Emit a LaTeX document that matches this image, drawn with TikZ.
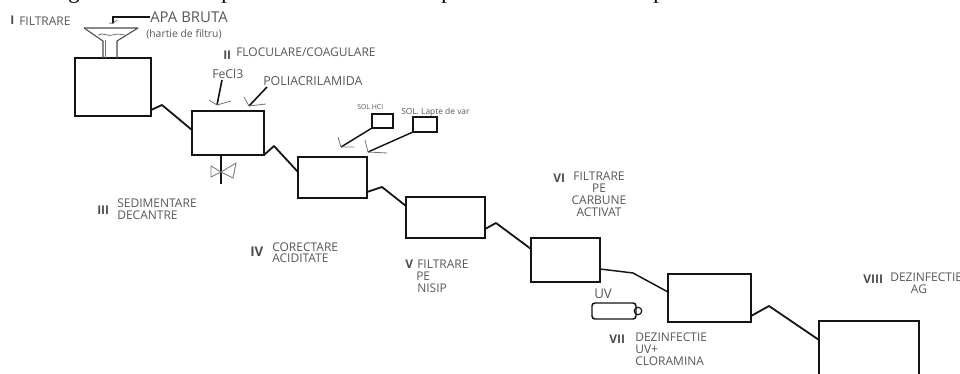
\documentclass[tikz,border=0pt]{standalone}
\usepackage{fontspec}
\setmainfont{Open Sans}
\newfontfamily\serifcut{Liberation Serif}
\definecolor{lab}{gray}{0.34}
\definecolor{ink}{gray}{0.08}
\tikzset{
 tank/.style={draw=ink,line width=1.35pt,anchor=north west,inner sep=0pt,outer sep=0pt},
 pipe/.style={draw=ink,line width=1.35pt,line join=round},
 sketch/.style={draw=black!55,line width=.6pt,line join=round},
 lbl/.style={text=lab,inner sep=0pt,anchor=west,font=\fontsize{9}{10}\selectfont},
 lblc/.style={text=lab,inner sep=0pt,font=\fontsize{9}{10}\selectfont},
 tiny/.style={text=lab,inner sep=0pt,anchor=west,font=\fontsize{5.2}{6}\selectfont},
 small/.style={text=lab,inner sep=0pt,anchor=west,font=\fontsize{7.8}{9}\selectfont},
 big/.style={text=lab,inner sep=0pt,anchor=west,font=\fontsize{11.2}{13}\selectfont},
 roman/.style={text=black!70,inner sep=0pt,anchor=west,font=\bfseries\fontsize{9}{10}\selectfont},
 cut/.style={text=black,inner sep=0pt,anchor=base,font=\serifcut\fontsize{17}{18}\selectfont}
}
\begin{document}
\begin{tikzpicture}[x=0.75pt,y=-0.75pt]
\useasboundingbox (0,0) rectangle (960,374);
\clip (0,0) rectangle (960,374);
% descenders of the line cut off above the picture
\node[cut] (c1) at (74,-1) {g};
\node[cut] (c2) at (227,-1) {p};
\node[cut] (c3) at (447,-1) {p};
\node[cut] (c4) at (659,-1) {p};
% tanks
\node[tank,minimum width=57pt,minimum height=43.5pt] (b1) at (75,58) {};
\node[tank,minimum width=54pt,minimum height=33pt] (b2) at (192,111) {};
\node[tank,minimum width=51.75pt,minimum height=30.75pt] (b3) at (298,157) {};
\node[tank,minimum width=59.25pt,minimum height=30.75pt] (b4) at (406,197) {};
\node[tank,minimum width=51.75pt,minimum height=33pt] (b5) at (531,238) {};
\node[tank,minimum width=62.25pt,minimum height=36pt] (b6) at (668,274) {};
\node[tank,minimum width=75pt,minimum height=48pt] (b7) at (819,321) {};
\node[tank,line width=1.1pt,minimum width=15.75pt,minimum height=10.5pt] (h) at (372,114) {};
\node[tank,line width=1.1pt,minimum width=18pt,minimum height=11.25pt] (l) at (413,117) {};
% connectors between tanks
\draw[pipe] ([shift={(0,-6)}]b1.south east) -- ++(11,-5) -- ([shift={(0,19)}]b2.north west);
\draw[pipe] (b2.south east) -- ++(10,-9) -- ([shift={(0,15)}]b3.north west);
\draw[pipe] ([shift={(0,-6)}]b3.south east) -- ++(15,-5) -- ([shift={(0,9)}]b4.north west);
\draw[pipe] ([shift={(0,-9)}]b4.south east) -- ++(11,-6) -- ([shift={(0,11)}]b5.north west);
\draw[pipe,line width=1.1pt] ([shift={(0,-13)}]b5.south east) -- ++(33,4) -- ([shift={(0,18)}]b6.north west);
\draw[pipe] ([shift={(0,-6)}]b6.south east) -- ++(18,-10) -- ([shift={(0,19)}]b7.north west);
% funnel
\coordinate (fa) at (84,28); \coordinate (fb) at (138,28);
\coordinate (fc) at (117,41); \coordinate (fd) at (103,41);
\draw[draw=black!70,line width=.8pt,line join=round] (fa) -- (fb) -- (fc) -- ([shift={(0,17)}]fc);
\draw[draw=black!70,line width=.8pt,line join=round] (fa) -- (fd) -- ([shift={(0,17)}]fd);
\draw[sketch] ([shift={(2,-1)}]fd) -- ([shift={(2,17)}]fd);
\draw[sketch] (98,35) .. controls (104,32) and (108,37) .. (113,35) .. controls (118,33) and (121,35) .. (125,35);
% raw water
\node[big] (apa) at (150,17) {APA BRUTA};
\node[small] (hart) at (146,34) {(hartie de filtru)};
\draw[draw=ink,line width=.9pt] (apa.west) -- ++(-37,0) -- ++(0,6);
\draw[sketch] (109,23) -- (113,23.5) -- (117,20);
% stage labels
\node[roman] (n1) at (10,20) {I};
\node[lbl] (t1) at (19,21) {FILTRARE};
\node[roman] (n2) at (223,55) {II};
\node[lbl] (t2) at (236,52) {FLOCULARE/COAGULARE};
\node[small,font=\fontsize{9.2}{10}\selectfont] (fe) at (212,74) {FeCl3};
\node[lbl,font=\fontsize{9.3}{10}\selectfont] (po) at (263,81) {POLIACRILAMIDA};
\node[roman] (n3) at (97,210) {III};
\node[lbl] (t3a) at (117,203) {SEDIMENTARE};
\node[lbl] (t3b) at (117,215) {DECANTRE};
\node[roman,font=\bfseries\fontsize{10}{11}\selectfont] (n4) at (250,252) {IV};
\node[lbl] (t4a) at (272,247) {CORECTARE};
\node[lbl] (t4b) at (272,258) {ACIDITATE};
\node[roman] (n5) at (405,264) {V};
\node[lbl] (t5a) at (417,264) {FILTRARE};
\node[lbl] (t5b) at (416,276) {PE};
\node[lbl] (t5c) at (417,288) {NISIP};
\node[roman] (n6) at (553,178) {VI};
\node[lblc] (t6a) at (599,176) {FILTRARE};
\node[lblc] (t6b) at (599,188) {PE};
\node[lblc] (t6c) at (599,200) {CARBUNE};
\node[lblc] (t6d) at (599,212) {ACTIVAT};
\node[roman] (n7) at (609,339) {VII};
\node[lbl] (t7a) at (635,337) {DEZINFECTIE};
\node[lbl] (t7b) at (635,349) {UV+};
\node[lbl] (t7c) at (635,361) {CLORAMINA};
\node[roman] (n8) at (863,279) {VIII};
\node[lbl] (t8a) at (890,277) {DEZINFECTIE};
\node[lblc] (t8b) at (919,289) {AG};
\node[tiny] (th) at (357,107) {SOL HCl};
\node[tiny,font=\fontsize{6.3}{7}\selectfont] (tl) at (401,112) {SOL. Lapte de var};
\node[small,font=\fontsize{10}{11}\selectfont] (uv) at (594,294) {UV};
% dosing lines with open sketched heads
\coordinate (a1) at (217,105);
\draw[pipe,line width=1.2pt] ([shift={(10,1)}]fe.south west) -- (a1);
\draw[sketch] (209,100) -- (a1) -- (231,101);
\coordinate (a2) at (249,106);
\draw[pipe,line width=1.2pt] ([shift={(4,6)}]po.west) -- (a2);
\draw[sketch] (244,97) -- (a2) -- (266,104);
\coordinate (a3) at (341,147);
\draw[pipe,line width=1.1pt] (h.south west) -- (a3);
\draw[sketch] (338,137) -- (a3) -- (354,147);
\coordinate (a4) at (368,152);
\draw[pipe,line width=1.1pt] (l.south west) -- (a4);
\draw[sketch] (365,140) -- (a4) -- (387,153);
% valve
\coordinate (v) at (221,172);
\draw[pipe,line width=1.1pt] (v |- b2.south) -- (221,184);
\draw[sketch] (v) -- (211,166) -- (211,177) -- cycle;
\draw[sketch] (v) -- (236,163) -- (233,178) -- cycle;
% UV lamp
\node[draw=ink,line width=1.1pt,rounded corners=2.2pt,anchor=north west,inner sep=0pt,outer sep=0pt,minimum width=33pt,minimum height=12pt] (lamp) at (592,303) {};
\node[draw=ink,line width=.9pt,circle,inner sep=0pt,outer sep=0pt,minimum size=5.6pt] (lc) at (638,311) {};
\end{tikzpicture}
\end{document}
